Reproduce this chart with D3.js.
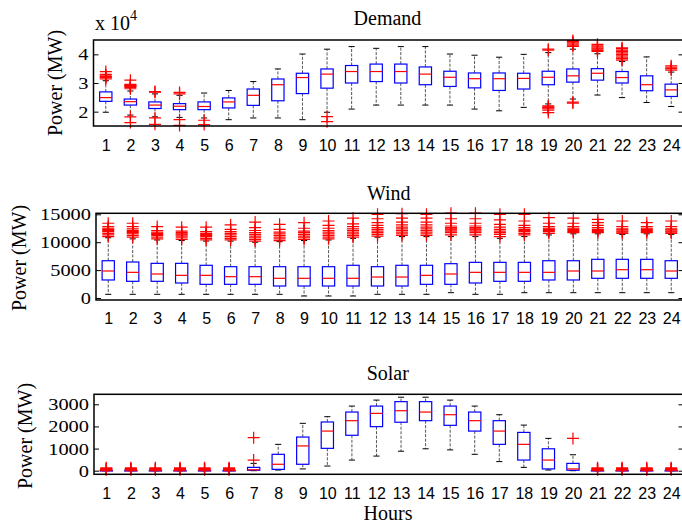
<!DOCTYPE html>
<html><head><meta charset="utf-8">
<script src="https://cdn.jsdelivr.net/npm/d3@7"></script>
<style>body{margin:0;background:#fff} svg{display:block}</style>
</head><body>
<svg id="c" width="682" height="525"></svg>
<script>
const hours = [1,2,3,4,5,6,7,8,9,10,11,12,13,14,15,16,17,18,19,20,21,22,23,24];

// Demand (MW)
const demandLow  = [19800,18800,18200,18000,17800,17200,17800,17800,17200,19800,20900,22300,22300,22300,22300,20900,20300,21500,22700,24400,25800,24900,23200,21800];
const demandQ1   = [23600,22300,21100,20700,20700,21300,22200,23800,26300,28200,30000,30500,30000,29400,28800,28300,27400,27900,29400,30300,31000,30000,27300,25300];
const demandMed  = [24900,23500,22300,21900,21800,23400,25700,29400,31900,33100,34000,34000,34000,33100,32000,31500,31500,31600,32000,32500,33400,31900,29400,27600];
const demandQ3   = [26900,24400,23400,22800,23400,24800,27900,31400,33400,34900,36100,36600,36600,35600,34100,33500,33500,33400,34100,34900,35000,34000,32500,29600];
const demandHigh = [30800,27200,26200,25700,26500,27400,30500,34900,40100,41800,42700,42100,42700,42700,40100,39700,39000,40000,40600,41800,40200,37500,39100,33800];
const demandOut  = [
  [31400,31800,32000,32200,32500,33000,34000],
  [28000,28500,28800,29000,29200,29500,31000,18200,16200],
  [26800,27000,17800,15600],
  [26200,26700,17200,15200],
  [17000,15500],
  [],[],[],[],
  [18300,16500],
  [],[],[],[],[],[],[],[],
  [41500,41800,22000,21700,21400,21000,20500,19700],
  [42800,43200,43600,44000,44400,44800,23300,23000],
  [41000,41400,41800,42200,42600,43000,43500],
  [38000,38500,39000,39500,40000,40500,41000,41500,42000,42300],
  [],
  [34500,35000,35500,36000]
];
const demandTicks = [20000,30000,40000];

// Wind (MW)
const windLow  = [660,660,660,660,660,660,660,660,360,360,360,660,660,660,950,660,660,950,950,950,950,950,950,950];
const windQ1   = [3230,2990,2990,2690,2450,2450,2450,2150,2150,2150,2150,2150,2150,2450,2450,2690,2990,2990,3230,3230,3530,3530,3530,3530];
const windMed  = [4840,4600,4300,4060,4060,3820,3820,3530,3530,3530,3530,3760,3760,4060,4300,4600,4600,4600,4600,4840,4840,5070,5070,4840];
const windQ3   = [6680,6450,6210,6210,5860,5610,5610,5610,5610,5610,5860,5610,5860,5860,6150,6390,6390,6390,6680,6680,6930,6930,6930,6680];
const windHigh = [10800,10600,10400,10300,10200,10200,10000,10100,10300,10400,10700,10900,11000,11000,11000,11000,10700,11000,11300,11500,11500,11400,11500,11400];
const windOut = [
  [11000,11300,11600,11900,12100,12300,12500,12800,13400],
  [10900,11200,11500,11700,11900,12100,12400,12800,13400],
  [10600,10900,11200,11400,11600,11800,12100,12800],
  [10500,10800,11100,11300,11500,11700,12000,12700],
  [10400,10700,11000,11200,11400,11600,11900,12700],
  [10400,10700,11000,11300,11600,11900,12300,13100],
  [10200,10500,10800,11100,11400,11700,12100,12600,13600],
  [10300,10600,10900,11200,11500,11800,12300,13200],
  [10500,10800,11100,11400,11700,12000,12500,13500],
  [10600,10900,11200,11500,11800,12100,12500,13000,13800],
  [10900,11200,11500,11800,12100,12400,12800,13300,14300],
  [11100,11400,11700,12000,12300,12600,13000,13500,14200,15000],
  [11200,11500,11800,12100,12400,12700,13100,13600,14300,15100],
  [11200,11500,11800,12100,12400,12700,13100,13600,14300,15000],
  [11300,11700,12000,12200,12400,12600,12900,13400,14200,15200],
  [11300,11700,12000,12200,12400,12600,12900,13400,14200,15200],
  [11000,11400,11700,12000,12300,12700,13200,14000,15000],
  [11300,11600,11900,12100,12300,12600,13000,13800,15000],
  [11600,11900,12100,12300,12500,12800,13400,14400],
  [11700,11900,12100,12300,12500,12800,13400,14300],
  [11700,11900,12100,12300,12600,13000,13500,14100],
  [11600,11800,12000,12200,12400,12800,13800],
  [11700,11900,12100,12300,12500,12800,13500],
  [11600,11800,12000,12200,12400,12800,13800]
];
const windTicks = [0,5000,10000,15000];

// Solar (MW)
const solarLow  = [0,0,0,0,0,0,0,30,80,210,480,660,880,990,940,740,410,150,30,0,0,0,0,0];
const solarQ1   = [0,0,0,0,0,0,20,60,290,1010,1600,1990,2190,2260,2050,1790,1190,480,80,20,0,0,0,0];
const solarMed  = [0,0,0,0,0,0,40,290,1120,1790,2260,2590,2710,2650,2530,2260,1790,1190,480,80,0,0,0,0];
const solarQ3   = [10,10,10,10,10,10,150,740,1520,2200,2650,2920,3120,3120,2920,2650,2260,1730,990,330,10,10,10,10];
const solarHigh = [20,20,20,20,20,20,330,1190,2140,2440,2920,3190,3320,3320,3190,2920,2530,2060,1460,720,20,20,20,20];
const solarOut = [
  [40,60,80,100,130],[40,60,80,100,130],[40,60,80,100,130],
  [40,60,80,100,130],[40,60,80,100,130],[40,60,80,100,130],
  [480,1490],
  [],[],[],[],[],[],[],[],[],[],[],[],
  [1460],
  [40,60,80,100,130],[40,60,80,100,130],[40,60,80,100,130],[40,60,80,100,130]
];
const solarTicks = [0,1000,2000,3000];

const panelTitles = ["Demand","Wind","Solar"];
const yLabel = "Power (MW)";
const xLabel = "Hours";

const svg = d3.select("#c");
const SERIF = "'Liberation Serif','Times New Roman',serif";
const SANS = "'Liberation Sans',Arial,sans-serif";

function drawPanel(p) {
  const x = d3.scaleLinear().domain([0.5, 24.5]).range([p.left, p.right]);
  const y = d3.scaleLinear().domain(p.domain).range([p.bottom, p.top]);
  const g = svg.append("g");
  const bw = (x(1.5) - x(1)); // box width = 0.5 unit
  const cw = bw / 2;

  const rows = hours.map((h, i) => ({h, lo:p.lo[i], q1:p.q1[i], med:p.med[i], q3:p.q3[i], hi:p.hi[i], out:p.out[i]}));

  // whiskers
  g.selectAll(".wu").data(rows).join("line")
    .attr("x1", d => x(d.h)).attr("x2", d => x(d.h))
    .attr("y1", d => y(d.q3)).attr("y2", d => y(d.hi))
    .attr("stroke", "#555").attr("stroke-width", 1).attr("stroke-dasharray", "3,1.5");
  g.selectAll(".wl").data(rows).join("line")
    .attr("x1", d => x(d.h)).attr("x2", d => x(d.h))
    .attr("y1", d => y(d.q1)).attr("y2", d => y(d.lo))
    .attr("stroke", "#555").attr("stroke-width", 1).attr("stroke-dasharray", "3,1.5");
  // caps
  g.selectAll(".cu").data(rows).join("line")
    .attr("x1", d => x(d.h) - cw/2).attr("x2", d => x(d.h) + cw/2)
    .attr("y1", d => y(d.hi)).attr("y2", d => y(d.hi))
    .attr("stroke", "#000").attr("stroke-width", 1);
  g.selectAll(".cl").data(rows).join("line")
    .attr("x1", d => x(d.h) - cw/2).attr("x2", d => x(d.h) + cw/2)
    .attr("y1", d => y(d.lo)).attr("y2", d => y(d.lo))
    .attr("stroke", "#000").attr("stroke-width", 1);
  // boxes
  g.selectAll(".bx").data(rows).join("rect")
    .attr("x", d => x(d.h) - bw/2).attr("width", bw)
    .attr("y", d => y(d.q3)).attr("height", d => Math.max(0.5, y(d.q1) - y(d.q3)))
    .attr("fill", "none").attr("stroke", "#0000ff").attr("stroke-width", 1.2);
  // medians
  g.selectAll(".md").data(rows).join("line")
    .attr("x1", d => x(d.h) - bw/2).attr("x2", d => x(d.h) + bw/2)
    .attr("y1", d => y(d.med)).attr("y2", d => y(d.med))
    .attr("stroke", "#ff0000").attr("stroke-width", 1.2);
  // outliers
  const pts = rows.flatMap(d => d.out.map(v => ({h:d.h, v})));
  const s = 6;
  g.selectAll(".ol").data(pts).join("path")
    .attr("d", d => {
      const cx = x(d.h), cy = y(d.v);
      return `M${cx-s},${cy}H${cx+s}M${cx},${cy-s}V${cy+s}`;
    })
    .attr("stroke", "#ff0000").attr("stroke-width", 1.2).attr("fill", "none");

  // frame
  g.append("rect").attr("x", p.left).attr("y", p.top)
    .attr("width", p.right - p.left).attr("height", p.bottom - p.top)
    .attr("fill", "none").attr("stroke", "#000").attr("stroke-width", 1.5);

  // y axis left (inward ticks)
  const ya = g.append("g").attr("transform", `translate(${p.left},0)`)
    .call(d3.axisLeft(y).tickValues(p.ticks).tickSize(-5).tickSizeOuter(0).tickFormat(p.fmt));
  ya.select(".domain").remove();
  ya.selectAll(".tick line").attr("stroke", "#000");
  ya.selectAll(".tick text")
    .attr("x", 0).attr("text-anchor", "end")
    .attr("transform", "translate(-5,0) scale(1.2,1)")
    .style("font-family", SERIF).style("font-size", "17px").attr("fill", "#000");

  // y axis right (inward ticks, no labels)
  const yr = g.append("g").attr("transform", `translate(${p.right},0)`)
    .call(d3.axisRight(y).tickValues(p.ticks).tickSize(-5).tickSizeOuter(0).tickFormat(""));
  yr.select(".domain").remove();

  // x axis
  const xa = g.append("g").attr("transform", `translate(0,${p.bottom})`)
    .call(d3.axisBottom(x).tickValues(hours).tickSize(0).tickSizeOuter(0).tickFormat(d3.format("d")));
  xa.select(".domain").remove();
  xa.selectAll(".tick text").attr("y", p.xtickOff).attr("dy", 0)
    .style("font-family", SANS).style("font-size", "16px").attr("fill", "#000");

  // title
  svg.append("text").attr("x", (p.left + p.right) / 2 - 1).attr("y", p.titleY)
    .attr("text-anchor", "middle").style("font-family", SERIF).style("font-size", "20px")
    .text(p.title);
  // y label
  svg.append("text").attr("transform", `translate(${p.ylx},${p.yly}) rotate(-90)`)
    .attr("text-anchor", "middle").style("font-family", SERIF).style("font-size", "20px")
    .text(yLabel);
}

drawPanel({title: panelTitles[0], lo: demandLow, q1: demandQ1, med: demandMed, q3: demandQ3, hi: demandHigh, out: demandOut,
  ticks: demandTicks, fmt: d => d / 1e4, domain: [15000, 45000],
  left: 93.5, right: 683.5, top: 40, bottom: 126, titleY: 25, ylx: 62, yly: 83, xtickOff: 24.5});
drawPanel({title: panelTitles[1], lo: windLow, q1: windQ1, med: windMed, q3: windQ3, hi: windHigh, out: windOut,
  ticks: windTicks, fmt: d3.format("d"), domain: [-358, 15180],
  left: 96, right: 683.5, top: 213.3, bottom: 300, titleY: 200, ylx: 26, yly: 258, xtickOff: 24});
drawPanel({title: panelTitles[2], lo: solarLow, q1: solarQ1, med: solarMed, q3: solarQ3, hi: solarHigh, out: solarOut,
  ticks: solarTicks, fmt: d3.format("d"), domain: [-163, 3452],
  left: 94, right: 683.5, top: 394.3, bottom: 474.3, titleY: 380, ylx: 32, yly: 436, xtickOff: 24.4});

// exponent label
const ex = svg.append("text").attr("x", 95).attr("y", 30)
  .style("font-family", SERIF).style("font-size", "20px");
ex.append("tspan").text("x 10");
ex.append("tspan").attr("dy", -10).style("font-size", "14px").text("4");

// x label
svg.append("text").attr("x", 388).attr("y", 520).attr("text-anchor", "middle")
  .style("font-family", SERIF).style("font-size", "20px").text(xLabel);
</script>
</body></html>
